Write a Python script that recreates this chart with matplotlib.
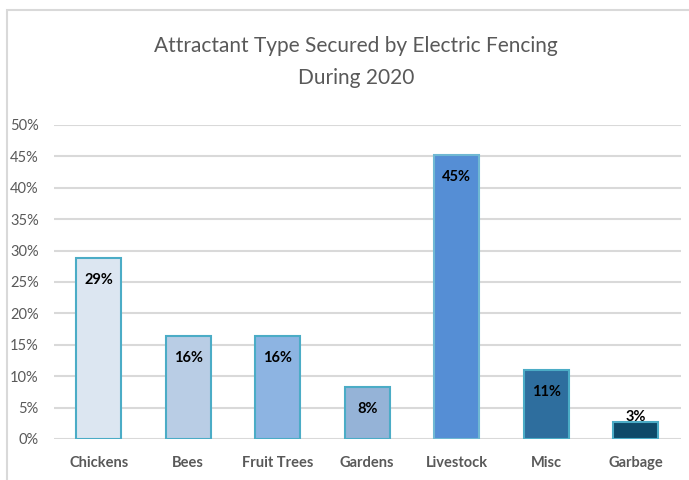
import matplotlib
matplotlib.use("Agg")
import matplotlib.pyplot as plt
from matplotlib.ticker import MultipleLocator, FuncFormatter
from matplotlib.patches import Rectangle

categories = ["Chickens", "Bees", "Fruit Trees", "Gardens", "Livestock", "Misc", "Garbage"]
values = [0.288, 0.164, 0.164, 0.083, 0.452, 0.110, 0.027]
labels = ["29%", "16%", "16%", "8%", "45%", "11%", "3%"]
colors = ["#dce6f1", "#b9cde5", "#8db4e2", "#95b3d7", "#558ed5", "#2e6e9e", "#0e4a69"]
edges = ["#4bacc6", "#4bacc6", "#4bacc6", "#4bacc6", "#6fb8d3", "#4bacc6", "#4bacc6"]

plt.rcParams['font.family'] = ['Lato', 'DejaVu Sans']

fig = plt.figure(figsize=(6.89, 4.8), dpi=100)
W, H = 689, 480
ax = fig.add_axes([54 / W, 1 - 439 / H, (680.5 - 54) / W, (439 - 125) / H])

x = list(range(len(categories)))
ax.bar(x, values, width=0.5, color=colors, edgecolor=edges, linewidth=1.5, zorder=3)

ax.set_xlim(-0.5, len(categories) - 0.5)
ax.set_ylim(0, 0.5)
ax.yaxis.set_major_locator(MultipleLocator(0.05))
ax.yaxis.set_major_formatter(FuncFormatter(lambda v, p: f"{v*100:.0f}%"))
ax.grid(axis='y', color='#d9d9d9', linewidth=1.5, zorder=0)
for s in ax.spines.values():
    s.set_visible(False)
ax.tick_params(axis='both', length=0)
ax.tick_params(axis='y', labelsize=10.5, labelcolor='#595959', pad=11)
ax.set_xticks(x)
ax.set_xticklabels(categories, fontsize=10.5, color='#595959', fontweight='bold')
ax.tick_params(axis='x', pad=12)

for xi, v, lab in zip(x, values, labels):
    if v > 0.06:
        ax.annotate(lab, (xi, v), xytext=(0, -16), textcoords='offset points',
                    ha='center', va='center', fontsize=10.5, fontweight='bold', color='black', zorder=5)
    else:
        ax.annotate(lab, (xi, v), xytext=(0, 3.5), textcoords='offset points',
                    ha='center', va='center', fontsize=10.5, fontweight='bold', color='black', zorder=5)

fig.text(356 / W, 1 - 61.5 / H, "Attractant Type Secured by Electric Fencing\nDuring 2020",
         ha='center', va='center', fontsize=15, color='#595959', linespacing=1.75)

fig.patches.append(Rectangle((7 / W, -0.1), 1.2, 1 - 10 / H + 0.1, transform=fig.transFigure,
                             fill=False, edgecolor='#d9d9d9', linewidth=1.5))

fig.savefig("out.png", dpi=100)
